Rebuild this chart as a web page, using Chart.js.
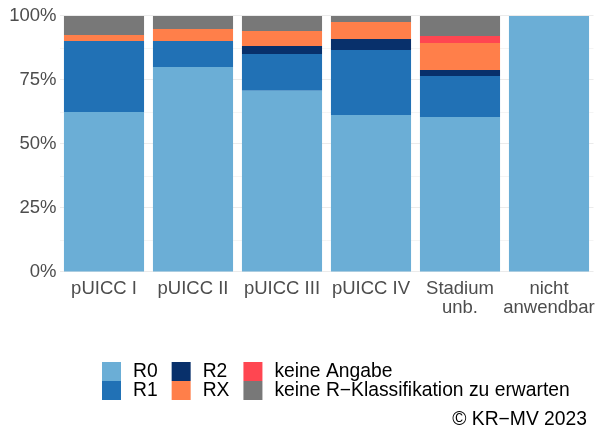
<!DOCTYPE html>
<html lang="de">
<head>
<meta charset="utf-8">
<script src="https://cdn.jsdelivr.net/npm/chart.js@4/dist/chart.umd.min.js"></script>
<style>
  html, body { margin: 0; padding: 0; background: #fff; }
  #wrap { position: relative; width: 598px; height: 429px; }
</style>
</head>
<body>
<div id="wrap"><canvas id="rChart" width="598" height="429"></canvas></div>
<script>
const categories = ['pUICC I', 'pUICC II', 'pUICC III', 'pUICC IV', ['Stadium', 'unb.'], ['nicht', 'anwendbar']];
const seriesNames = ['R0', 'R1', 'R2', 'RX', 'keine Angabe', 'keine R\u2212Klassifikation zu erwarten'];
const r0 = [62.5, 80.1, 70.8, 61.3, 60.5, 100];
const r1 = [27.7, 10.1, 14.4, 25.4, 16.1, 0];
const r2 = [0, 0, 3.1, 4.3, 2.3, 0];
const rx = [2.4, 4.7, 5.8, 6.7, 10.6, 0];
const keineAngabe = [0, 0, 0, 0, 2.7, 0];
const keineKlass = [7.4, 5.1, 5.9, 2.3, 7.8, 0];
const yTicks = [0, 25, 50, 75, 100];
const colors = ['#6baed6', '#2171b5', '#08306b', '#ff7f4a', '#ff4651', '#787878'];

const seriesValues = [r0, r1, r2, rx, keineAngabe, keineKlass];
const FONT = '"Liberation Sans", Arial, sans-serif';

// legend in two rows, filled column by column, like the ggplot one
const legendPlugin = {
  id: 'rowLegend',
  afterDraw(chart) {
    const ctx = chart.ctx;
    const ds = chart.data.datasets;
    const key = 19, textGap = 12, colGap = 14, top = 362;
    ctx.save();
    ctx.font = '19.3px ' + FONT;
    ctx.textBaseline = 'middle';
    ctx.textAlign = 'left';
    let x = 102;
    for (let i = 0; i < ds.length; i += 2) {
      const items = ds.slice(i, i + 2);
      const w = Math.max(...items.map(d => ctx.measureText(d.label).width));
      items.forEach((d, r) => {
        const y = top + r * key;
        ctx.fillStyle = d.backgroundColor;
        ctx.fillRect(x, y, key, key);
        ctx.fillStyle = '#000';
        ctx.fillText(d.label, x + key + textGap, y + key / 2 + 0.5);
      });
      x += key + textGap + w + colGap;
    }
    ctx.textAlign = 'right';
    ctx.fillText('\u00a9 KR\u2212MV 2023', 587, 420);
    ctx.restore();
  }
};

new Chart(document.getElementById('rChart'), {
  type: 'bar',
  data: {
    labels: categories,
    datasets: seriesNames.map((name, i) => ({
      label: name,
      data: seriesValues[i],
      backgroundColor: colors[i],
      borderWidth: 0,
      categoryPercentage: 0.9,
      barPercentage: 1,
    })),
  },
  options: {
    responsive: false,
    animation: false,
    layout: { padding: { top: 16, right: 4.5, bottom: 107, left: 0 } },
    plugins: {
      legend: { display: false },
      tooltip: { enabled: false },
    },
    scales: {
      x: {
        stacked: true,
        grid: { display: false },
        border: { display: false },
        ticks: {
          color: '#4d4d4d',
          padding: 0,
          maxRotation: 0,
          autoSkip: false,
          font: { family: FONT, size: 18.5, lineHeight: 1.0 },
        },
        afterFit(scale) { scale.height = 50; },
      },
      y: {
        stacked: true,
        min: 0,
        max: 100,
        border: { display: false },
        grid: {
          drawTicks: false,
          color: '#ebebeb',
          lineWidth: (c) => (yTicks.includes(c.tick.value) ? 1.1 : 0.55),
        },
        ticks: {
          stepSize: 12.5,
          color: '#4d4d4d',
          padding: 3,
          font: { family: FONT, size: 18.5 },
          callback: (v) => (yTicks.includes(v) ? v + '%' : ''),
        },
        afterFit(scale) { scale.width = 59.5; },
      },
    },
  },
  plugins: [legendPlugin],
});
</script>
</body>
</html>
